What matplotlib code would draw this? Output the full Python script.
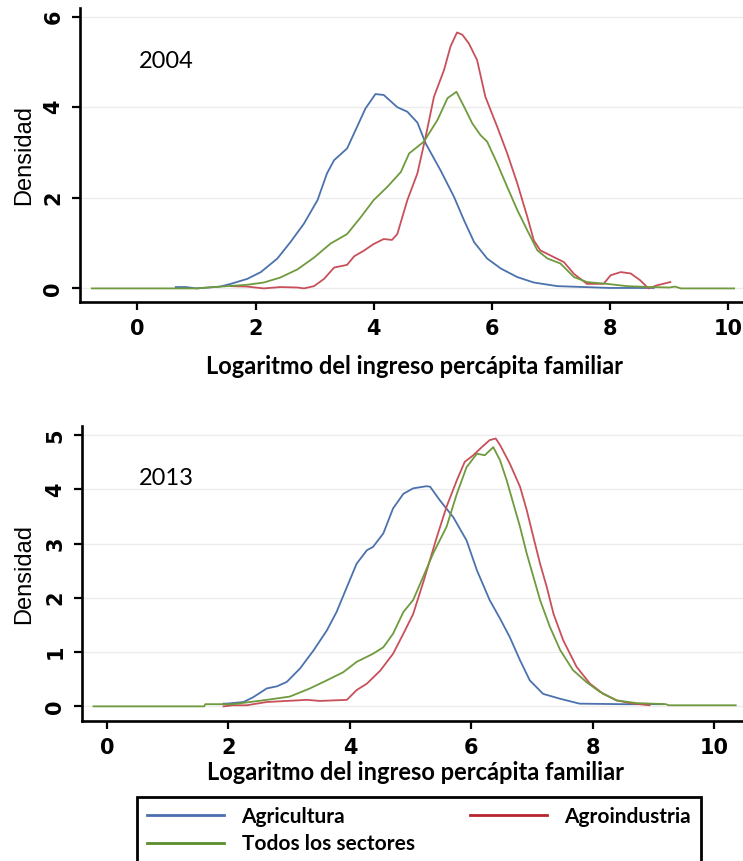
# kernel densities of log per-capita family income, 2004 vs 2013
import matplotlib
matplotlib.use('Agg')
import matplotlib.pyplot as plt

plt.rcParams['font.family'] = ['Lato', 'DejaVu Sans']

# 2004 curves (x, density)
agri04_x = [0.65, 0.82, 1.0, 1.4, 1.58, 1.86, 2.09, 2.37, 2.59, 2.82, 3.05, 3.21, 3.33, 3.55, 3.72, 3.86,
            4.03, 4.17, 4.40, 4.57, 4.74, 4.88, 5.13, 5.36, 5.53, 5.70, 5.92, 6.15, 6.43, 6.71, 7.11,
            7.56, 8.0, 8.74]
agri04_y = [0.03, 0.03, 0.0, 0.04, 0.10, 0.21, 0.36, 0.66, 1.02, 1.43, 1.95, 2.54, 2.83, 3.09, 3.57, 3.97,
            4.29, 4.27, 4.00, 3.90, 3.66, 3.20, 2.61, 2.02, 1.50, 1.02, 0.66, 0.44, 0.25, 0.13, 0.05,
            0.03, 0.01, 0.01]
agro04_x = [1.58, 1.86, 2.14, 2.42, 2.71, 2.82, 2.99, 3.16, 3.33, 3.55, 3.67, 3.83, 4.00, 4.17, 4.31,
            4.40, 4.57, 4.74, 4.88, 5.02, 5.19, 5.30, 5.41, 5.50, 5.61, 5.75, 5.89, 6.09, 6.26, 6.43,
            6.60, 6.71, 6.82, 7.05, 7.22, 7.39, 7.61, 7.89, 8.01, 8.18, 8.35, 8.51, 8.65, 8.80, 9.02]
agro04_y = [0.05, 0.04, 0.0, 0.03, 0.02, 0.0, 0.05, 0.21, 0.46, 0.52, 0.71, 0.83, 0.98, 1.09, 1.07,
            1.20, 1.95, 2.54, 3.35, 4.23, 4.82, 5.34, 5.65, 5.60, 5.41, 5.04, 4.23, 3.57, 2.98, 2.32,
            1.58, 1.06, 0.84, 0.69, 0.58, 0.32, 0.10, 0.10, 0.29, 0.36, 0.33, 0.18, 0.0, 0.07, 0.14]
todos04_x = [-0.77, 0.5, 1.0, 1.30, 1.86, 2.14, 2.42, 2.71, 2.99, 3.27, 3.55, 3.78, 4.00, 4.23, 4.46,
             4.60, 4.85, 5.08, 5.25, 5.40, 5.53, 5.67, 5.81, 5.92, 6.09, 6.26, 6.43, 6.60, 6.77, 6.94,
             7.16, 7.39, 7.61, 7.95, 8.29, 8.68, 9.0, 9.1, 9.2, 10.1]
todos04_y = [0.0, 0.0, 0.0, 0.03, 0.08, 0.13, 0.24, 0.42, 0.68, 0.99, 1.20, 1.57, 1.95, 2.24, 2.57,
             2.98, 3.24, 3.72, 4.20, 4.34, 4.01, 3.64, 3.38, 3.24, 2.76, 2.24, 1.73, 1.28, 0.84, 0.66,
             0.55, 0.25, 0.14, 0.10, 0.05, 0.03, 0.02, 0.04, 0.0, 0.0]

# 2013 curves
agri13_x = [1.92, 1.97, 2.25, 2.41, 2.63, 2.80, 2.96, 3.18, 3.40, 3.62, 3.78, 3.95, 4.11, 4.28, 4.38,
            4.55, 4.71, 4.88, 5.04, 5.26, 5.32, 5.48, 5.70, 5.92, 6.09, 6.30, 6.47, 6.63, 6.80, 6.96,
            7.18, 7.46, 7.78, 8.5, 9.15]
agri13_y = [0.05, 0.05, 0.08, 0.17, 0.33, 0.37, 0.45, 0.70, 1.03, 1.40, 1.74, 2.20, 2.63, 2.88, 2.94,
            3.19, 3.65, 3.92, 4.02, 4.06, 4.05, 3.80, 3.49, 3.06, 2.51, 1.96, 1.62, 1.28, 0.85, 0.48,
            0.23, 0.14, 0.05, 0.04, 0.04]
agro13_x = [1.92, 2.08, 2.30, 2.63, 2.96, 3.29, 3.51, 3.95, 4.11, 4.28, 4.50, 4.71, 4.88, 5.04, 5.21,
            5.43, 5.59, 5.76, 5.89, 6.03, 6.17, 6.30, 6.40, 6.47, 6.63, 6.80, 6.91, 7.02, 7.13, 7.24,
            7.35, 7.51, 7.73, 7.95, 8.17, 8.39, 8.61, 8.93]
agro13_y = [0.0, 0.02, 0.02, 0.08, 0.10, 0.12, 0.10, 0.12, 0.30, 0.42, 0.66, 0.97, 1.34, 1.70, 2.30,
            3.12, 3.68, 4.17, 4.51, 4.63, 4.78, 4.91, 4.94, 4.82, 4.48, 4.05, 3.62, 3.12, 2.63, 2.20,
            1.71, 1.22, 0.73, 0.42, 0.23, 0.11, 0.06, 0.02]
todos13_x = [-0.22, 1.0, 1.60, 1.62, 2.08, 2.63, 3.01, 3.34, 3.62, 3.89, 4.11, 4.38, 4.55, 4.71, 4.88,
             5.04, 5.21, 5.37, 5.59, 5.76, 5.92, 6.09, 6.22, 6.36, 6.47, 6.58, 6.69, 6.80, 6.91, 7.02,
             7.13, 7.29, 7.46, 7.67, 7.89, 8.11, 8.39, 8.72, 9.2, 9.25, 10.35]
todos13_y = [0.0, 0.0, 0.0, 0.04, 0.04, 0.12, 0.18, 0.33, 0.48, 0.63, 0.82, 0.97, 1.09, 1.34, 1.74,
             1.96, 2.40, 2.82, 3.31, 3.92, 4.41, 4.66, 4.63, 4.78, 4.54, 4.17, 3.74, 3.31, 2.82, 2.39,
             1.96, 1.47, 1.04, 0.67, 0.45, 0.27, 0.11, 0.06, 0.04, 0.02, 0.02]

xticks = [0, 2, 4, 6, 8, 10]
yticks04 = [0, 2, 4, 6]
yticks13 = [0, 1, 2, 3, 4, 5]

labels = ['Agricultura', 'Agroindustria', 'Todos los sectores']
colours = ['#4b72ad', '#c8505a', '#6f9a3e']
legend_colours = ['#4a6fae', '#b8252c', '#5b8c2e']

fig = plt.figure(figsize=(7.43, 8.61), dpi=100)
ax1 = fig.add_axes([80 / 743, 1 - 302 / 861, 663 / 743, 294 / 861])
ax2 = fig.add_axes([82 / 743, 1 - 721 / 861, 661 / 743, 295 / 861])


def style(ax, yticks, ylab_x, xlab_y, year, year_xy):
    for s in ['top', 'right']:
        ax.spines[s].set_visible(False)
    for s in ['left', 'bottom']:
        ax.spines[s].set_linewidth(1.9)
    ax.set_xticks(xticks)
    ax.set_yticks(yticks)
    ax.tick_params(length=6, width=1.6, pad=6)
    ax.grid(axis='y', color='#ececec', lw=1)
    ax.set_axisbelow(True)
    ax.set_ylabel('Densidad', fontsize=17, family=['Liberation Sans', 'DejaVu Sans'])
    ax.yaxis.set_label_coords(ylab_x, 0.5)
    ax.set_xlabel('Logaritmo del ingreso percápita familiar', fontsize=17, fontweight='bold')
    ax.xaxis.set_label_coords(0.505, xlab_y)
    ax.text(year_xy[0], year_xy[1], year, fontsize=17, ha='left', va='center')


ax1.plot(agri04_x, agri04_y, color=colours[0], lw=1.3)
ax1.plot(agro04_x, agro04_y, color=colours[1], lw=1.3)
ax1.plot(todos04_x, todos04_y, color=colours[2], lw=1.3)
ax1.set_xlim(-0.97, 10.25)
ax1.set_ylim(-0.30, 6.19)
style(ax1, yticks04, -0.068, -0.18, '2004', (0.03, 5.0))

ax2.plot(agri13_x, agri13_y, color=colours[0], lw=1.3)
ax2.plot(agro13_x, agro13_y, color=colours[1], lw=1.3)
ax2.plot(todos13_x, todos13_y, color=colours[2], lw=1.3)
ax2.set_xlim(-0.41, 10.47)
ax2.set_ylim(-0.27, 5.17)
style(ax2, yticks13, -0.071, -0.136, '2013', (0.53, 4.2))

handles = [plt.Line2D([], [], color=c, lw=2) for c in legend_colours]
leg = fig.legend([handles[0], handles[2], handles[1]], [labels[0], labels[2], labels[1]],
                 ncol=2, loc='upper left', bbox_to_anchor=(137 / 743, 1 - 797 / 861),
                 borderaxespad=0, frameon=True, fancybox=False, edgecolor='black', framealpha=1,
                 handlelength=3.7, handletextpad=0.86, columnspacing=2.64,
                 borderpad=0.46, labelspacing=0.35, prop={'weight': 'bold', 'size': 15})
leg.get_frame().set_linewidth(2)

# tick label fonts set once the ticks really exist
fig.canvas.draw()
for ax in [ax1, ax2]:
    for t in ax.get_xticklabels() + ax.get_yticklabels():
        t.set_fontfamily(['DejaVu Sans'])
        t.set_fontweight('bold')
        t.set_fontsize(15)
    for t in ax.get_yticklabels():
        t.set_rotation(90)
        t.set_va('center')

fig.savefig('out.png', dpi=100)
